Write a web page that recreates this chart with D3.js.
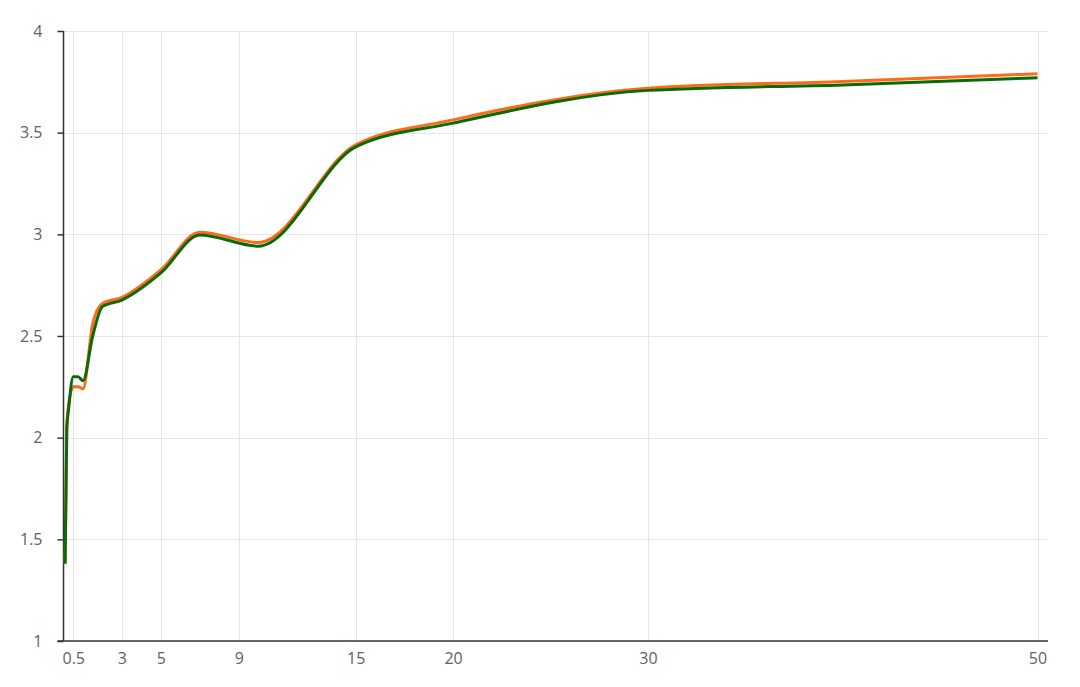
<!DOCTYPE html>
<html>
<head>
<meta charset="utf-8">
<script src="https://cdn.jsdelivr.net/npm/d3@7"></script>
<style>
  html, body { margin: 0; padding: 0; background: #fff; }
  svg { display: block; }
  .tick text { font-family: "Open Sans", "Liberation Sans", sans-serif; font-size: 16px; fill: #5f5f5f; }
</style>
</head>
<body>
<svg id="chart" width="1080" height="687"></svg>
<script>
// Maturities (years)
const maturities = [0.08, 0.17, 0.25, 0.5, 0.75, 1, 1.5, 2, 3, 5, 7, 10, 15, 20, 30, 40, 50];
// Orange series (yield, %)
const seriesOrange = [1.38, 2.05, 2.15, 2.25, 2.25, 2.24, 2.56, 2.66, 2.69, 2.825, 3.01, 2.96, 3.44, 3.563, 3.719, 3.752, 3.79];
// Green series (yield, %)
const seriesGreen  = [1.38, 2.05, 2.13, 2.30, 2.30, 2.28, 2.50, 2.645, 2.677, 2.81, 2.997, 2.942, 3.43, 3.547, 3.708, 3.735, 3.77];
// Axis ticks
const xTickValues = [0.5, 3, 5, 9, 15, 20, 30, 50];
const yTickValues = [1, 1.5, 2, 2.5, 3, 3.5, 4];

const svg = d3.select("#chart");
const mLeft = 63.5, mRight = 1037.5, mTop = 31, mBottom = 641, gridRight = 1048;

const x = d3.scaleLinear().domain([0, 50]).range([mLeft, mRight]);
const y = d3.scaleLinear().domain([1, 4]).range([mBottom, mTop]);

// Gridlines
const grid = svg.append("g");
grid.selectAll("line.h").data(yTickValues).join("line")
  .attr("x1", mLeft).attr("x2", gridRight)
  .attr("y1", d => Math.round(y(d)) + 0.5).attr("y2", d => Math.round(y(d)) + 0.5)
  .attr("stroke", "#e6e6e6").attr("stroke-width", 1);
grid.selectAll("line.v").data(xTickValues).join("line")
  .attr("x1", d => Math.round(x(d)) + 0.5).attr("x2", d => Math.round(x(d)) + 0.5)
  .attr("y1", mTop).attr("y2", mBottom)
  .attr("stroke", "#e6e6e6").attr("stroke-width", 1);

// X axis
const xAxis = svg.append("g")
  .attr("transform", `translate(0,${mBottom})`)
  .call(d3.axisBottom(x).tickValues(xTickValues).tickSize(0).tickPadding(12).tickFormat(d3.format("")));
xAxis.select(".domain").remove();
svg.append("line").attr("x1", mLeft - 6).attr("x2", gridRight)
  .attr("y1", mBottom).attr("y2", mBottom)
  .attr("stroke", "#333").attr("stroke-width", 1.5);

// Y axis
const yAxis = svg.append("g")
  .attr("transform", `translate(${mLeft},0)`)
  .call(d3.axisLeft(y).tickValues(yTickValues).tickSize(6).tickPadding(15).tickFormat(d3.format("")));
yAxis.select(".domain").remove();
yAxis.selectAll(".tick line").attr("stroke", "#333").attr("stroke-width", 1.5);
svg.append("line").attr("x1", mLeft).attr("x2", mLeft)
  .attr("y1", mTop).attr("y2", mBottom)
  .attr("stroke", "#333").attr("stroke-width", 1.5);

// Lines
const line = d3.line().curve(d3.curveMonotoneX)
  .x((d, i) => x(maturities[i])).y(d => y(d));

svg.append("path").datum(seriesOrange)
  .attr("d", line).attr("fill", "none")
  .attr("stroke", "#ff6a14").attr("stroke-width", 3).attr("stroke-linejoin", "round");
svg.append("path").datum(seriesGreen)
  .attr("d", line).attr("fill", "none")
  .attr("stroke", "#0a6a0a").attr("stroke-width", 3).attr("stroke-linejoin", "round");
</script>
</body>
</html>
